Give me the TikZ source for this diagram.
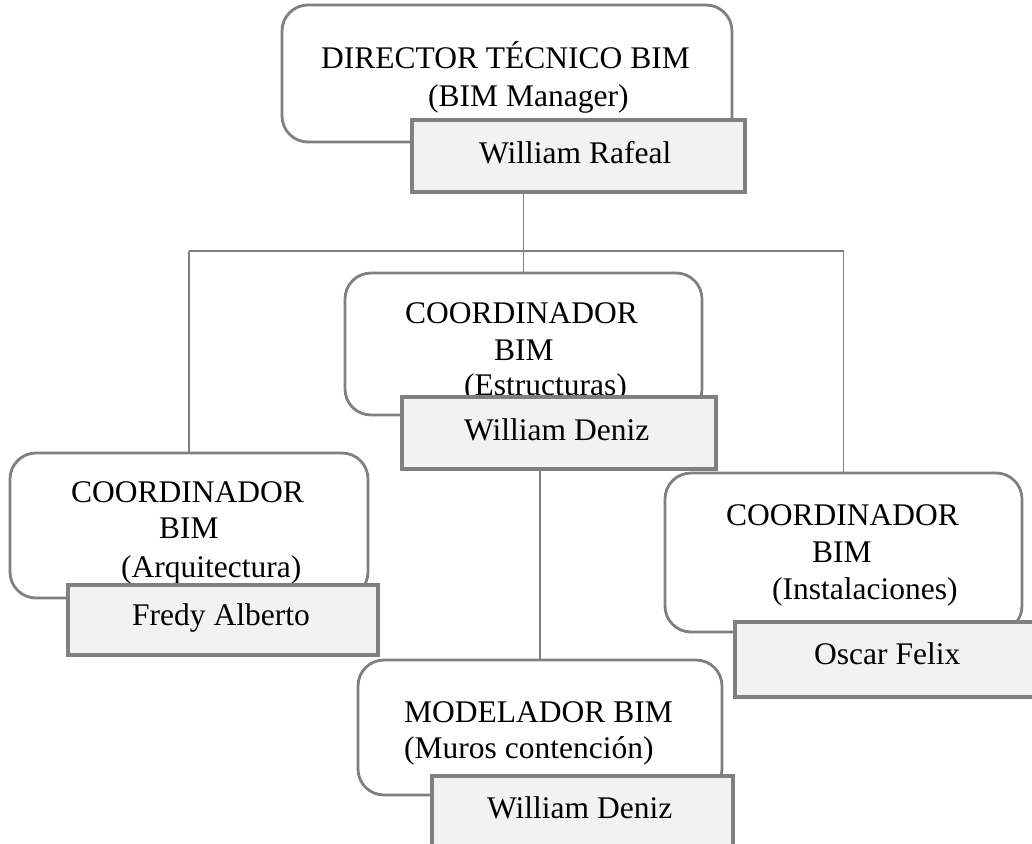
\documentclass[tikz,border=0pt]{standalone}
\usepackage{fontspec}
\setmainfont{Liberation Serif}
\definecolor{linegray}{RGB}{128,128,128}
\definecolor{namefill}{RGB}{242,242,242}
\begin{document}
\begin{tikzpicture}[x=1pt,y=-1pt,
  rolebox/.style={draw=linegray, line width=2.8pt, rounded corners=26pt, fill=white,
    inner sep=0pt, outer sep=0pt, anchor=north west},
  namebox/.style={draw=linegray, line width=3.2pt, fill=namefill,
    inner sep=0pt, outer sep=0pt, anchor=north west},
  txt/.style={anchor=base west, inner sep=0pt, font=\fontsize{31.5}{38}\selectfont},
  link/.style={draw=linegray, line width=1.5pt}]
\useasboundingbox (0,0) rectangle (1032,843);
\clip (0,0) rectangle (1032,843);

% box frames (drawn first so the connectors can be laid over them by name)
\path (282,5) node[rolebox, minimum width=450pt, minimum height=137pt] (dir) {};
\path (345,273) node[rolebox, minimum width=357pt, minimum height=142pt] (est) {};
\path (10,453) node[rolebox, minimum width=358pt, minimum height=145pt] (arq) {};
\path (665,473) node[rolebox, minimum width=357pt, minimum height=159pt] (ins) {};
\path (358,660) node[rolebox, minimum width=364pt, minimum height=135pt] (mod) {};

% connectors
\coordinate (bus) at (0,251);
\draw[link] (arq.north |- bus) -- (ins.north |- bus);
\draw[link] (dir.south -| est.north) -- (est.north);
\draw[link] (arq.north |- bus) -- (arq.north);
\draw[link] (ins.north |- bus) -- (ins.north);
\draw[link] (est.south -| mod.north) -- (mod.north);

% role titles
\node[txt] (dirA) at (321,68) {DIRECTOR TÉCNICO BIM};
\node[txt] (dirB) at (428,106) {(BIM Manager)};
\node[txt] (estA) at (405,323) {COORDINADOR};
\node[txt] (estB) at (494,360) {BIM};
\node[txt] (estC) at (464,395) {(Estructuras)};
\node[txt] (arqA) at (71,502) {COORDINADOR};
\node[txt] (arqB) at (159,538) {BIM};
\node[txt] (arqC) at (121,577) {(Arquitectura)};
\node[txt] (insA) at (726,525) {COORDINADOR};
\node[txt] (insB) at (812,562) {BIM};
\node[txt] (insC) at (772,599) {(Instalaciones)};
\node[txt] (modA) at (404,722) {MODELADOR BIM};
\node[txt] (modB) at (404,758) {(Muros contención)};

% name plates
\path (412,120) node[namebox, minimum width=333pt, minimum height=72pt] (wr) {};
\path (402,397) node[namebox, minimum width=314pt, minimum height=72pt] (wde) {};
\path (68,585) node[namebox, minimum width=310pt, minimum height=70pt] (fa) {};
\path (735,622) node[namebox, minimum width=310pt, minimum height=75pt] (of) {};
\path (432,776) node[namebox, minimum width=301pt, minimum height=80pt] (wdm) {};

\node[txt] (wrT) at (479,163) {William Rafeal};
\node[txt] (wdeT) at (464,440) {William Deniz};
\node[txt] (faT) at (132,625) {Fredy Alberto};
\node[txt] (ofT) at (814,664) {Oscar Felix};
\node[txt] (wdmT) at (487,818) {William Deniz};
\end{tikzpicture}
\end{document}
